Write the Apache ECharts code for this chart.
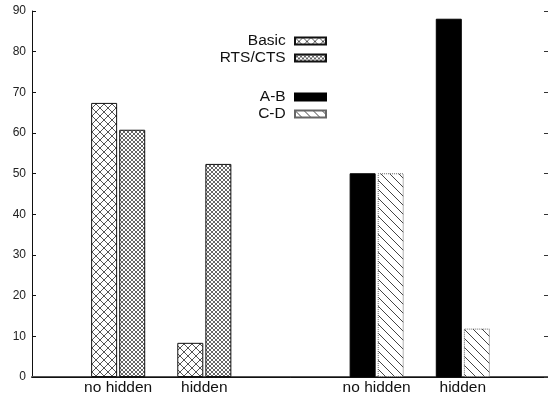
<!DOCTYPE html>
<html>
<head>
<meta charset="utf-8">
<script src="https://cdn.jsdelivr.net/npm/echarts@6/dist/echarts.min.js"></script>
<style>html,body{margin:0;padding:0;background:#fff}#c{width:548px;height:398px}</style>
</head>
<body>
<div id="c"></div>
<script>
var categories = ['', 'no hidden', 'hidden', '', 'no hidden', 'hidden', ''];
var basic  = [null, 67.4, 8.4, null, null, null, null];
var rtscts = [null, 60.8, 52.4, null, null, null, null];
var ab     = [null, null, null, null, 50.1, 88.1, null];
var cd     = [null, null, null, null, 50.1, 11.9, null];
var yTicks = { min: 0, max: 90, interval: 10 };

function makeTile(size, draw) {
  var cv = document.createElement('canvas');
  cv.width = size; cv.height = size;
  var g = cv.getContext('2d');
  g.fillStyle = '#fff'; g.fillRect(0, 0, size, size);
  draw(g, size);
  return cv;
}
var crossTile = makeTile(8, function (g, s) {
  g.strokeStyle = '#555'; g.lineWidth = 1;
  g.beginPath();
  g.moveTo(0, 0); g.lineTo(s, s);
  g.moveTo(s, 0); g.lineTo(0, s);
  g.stroke();
});
var denseTile = makeTile(4, function (g, s) {
  g.strokeStyle = '#666'; g.lineWidth = 1;
  g.beginPath();
  g.moveTo(0, 0); g.lineTo(s, s);
  g.moveTo(s, 0); g.lineTo(0, s);
  g.stroke();
});
var diagTile = makeTile(9, function (g, s) {
  g.strokeStyle = '#444'; g.lineWidth = 1;
  g.beginPath();
  g.moveTo(-1, -1); g.lineTo(s + 1, s + 1);
  g.moveTo(-1, s - 1); g.lineTo(1, s + 1);
  g.moveTo(s - 1, -1); g.lineTo(s + 1, 1);
  g.stroke();
});

var font = 'Liberation Sans, Arial, Helvetica, sans-serif';
var chart = echarts.init(document.getElementById('c'), null, { renderer: 'canvas' });
function barSeries(name, data, stack, style) {
  return {
    name: name, type: 'bar', stack: stack, data: data,
    barWidth: 26, barGap: '8%',
    itemStyle: style
  };
}
var legendText = { fontSize: 15.5, fontFamily: font, color: '#111', lineHeight: 16 };
chart.setOption({
  animation: false,
  grid: { left: 32, top: 11, width: 517, bottom: 21, show: false,
          containLabel: false, outerBoundsMode: 'none' },
  xAxis: [{
    type: 'category', data: categories, boundaryGap: false,
    axisLine: { lineStyle: { color: '#555', width: 2 } },
    axisTick: { show: false },
    axisLabel: { color: '#111', fontSize: 15.5, fontFamily: font, margin: 3, interval: 0 },
    splitLine: { show: false }
  }, {
    type: 'category', data: categories, boundaryGap: false, position: 'top',
    axisLine: { lineStyle: { color: '#111', width: 1 } },
    axisTick: { show: false },
    axisLabel: { show: false },
    splitLine: { show: false }
  }],
  yAxis: [{
    type: 'value', min: yTicks.min, max: yTicks.max, interval: yTicks.interval,
    axisLine: { show: true, lineStyle: { color: '#111' } },
    axisTick: { show: true, inside: true, length: 4, lineStyle: { color: '#111' } },
    axisLabel: { color: '#222', fontSize: 12, fontFamily: font, margin: 6 },
    splitLine: { show: false }
  }, {
    type: 'value', position: 'right', min: yTicks.min, max: yTicks.max, interval: yTicks.interval,
    axisLine: { show: false },
    axisTick: { show: true, inside: true, length: 5, lineStyle: { color: '#333' } },
    axisLabel: { show: false },
    splitLine: { show: false }
  }],
  legend: [{
    data: ['Basic', 'RTS/CTS'], orient: 'vertical', align: 'right', icon: 'rect',
    right: 221, top: 33, padding: 0, itemWidth: 31, itemHeight: 7, itemGap: 1,
    formatter: function (n) { return n + ' '; },
    textStyle: legendText
  }, {
    data: ['A-B', 'C-D'], orient: 'vertical', align: 'right', icon: 'rect',
    right: 221, top: 89, padding: 0, itemWidth: 31, itemHeight: 7, itemGap: 1,
    formatter: function (n) { return n + ' '; },
    textStyle: legendText
  }],
  series: [
    barSeries('Basic', basic, 's1', { color: { image: crossTile, repeat: 'repeat' }, borderColor: '#111', borderWidth: 1 }),
    barSeries('RTS/CTS', rtscts, 's2', { color: { image: denseTile, repeat: 'repeat' }, borderColor: '#111', borderWidth: 1 }),
    barSeries('A-B', ab, 's1', { color: '#000', borderColor: '#000', borderWidth: 1 }),
    barSeries('C-D', cd, 's2', { color: { image: diagTile, repeat: 'repeat' }, borderColor: '#666', borderWidth: 1, borderType: 'dotted' })
  ]
});
</script>
</body>
</html>
